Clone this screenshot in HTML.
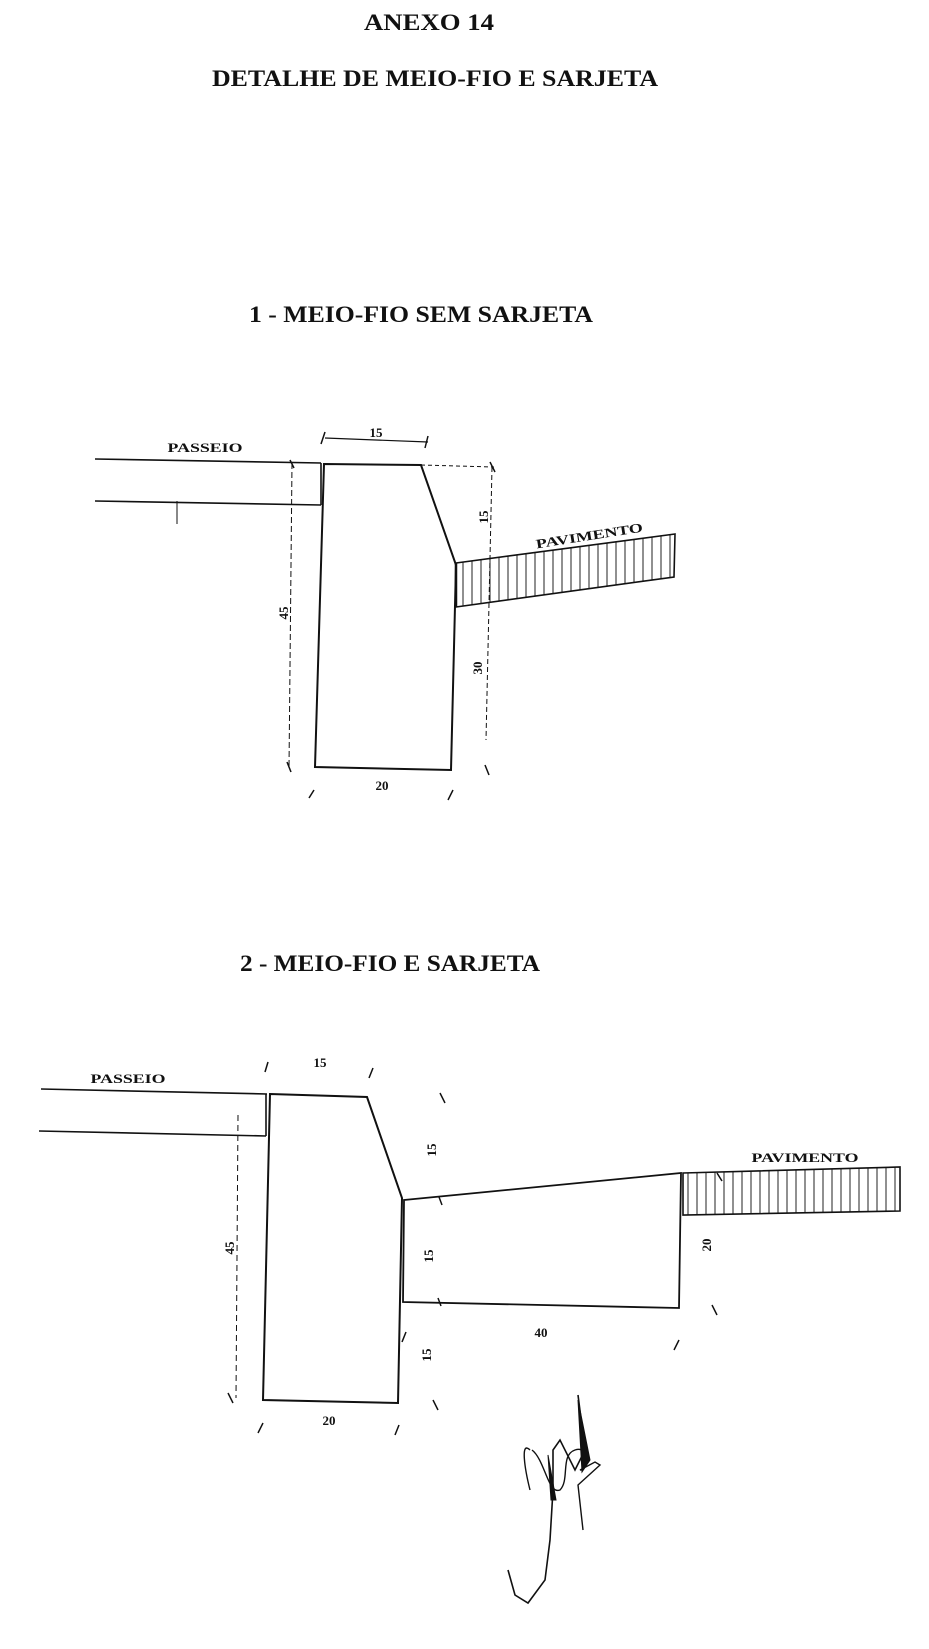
<!DOCTYPE html>
<html><head><meta charset="utf-8"><style>
html,body{margin:0;padding:0;background:#fff;}
svg{display:block;}
text{font-family:"Liberation Serif",serif;font-weight:bold;fill:#111;}
</style></head><body>
<svg width="929" height="1649" viewBox="0 0 929 1649" xmlns="http://www.w3.org/2000/svg">
<defs>
<pattern id="h" width="9" height="10" patternUnits="userSpaceOnUse">
<line x1="4" y1="0" x2="4" y2="10" stroke="#222" stroke-width="1"/>
</pattern>
</defs>
<text x="429" y="30" font-size="23" text-anchor="middle" textLength="130" lengthAdjust="spacingAndGlyphs">ANEXO 14</text>
<text x="435" y="86" font-size="23" text-anchor="middle" textLength="446" lengthAdjust="spacingAndGlyphs">DETALHE DE MEIO-FIO E SARJETA</text>
<text x="421" y="322" font-size="23" text-anchor="middle" textLength="344" lengthAdjust="spacingAndGlyphs">1 - MEIO-FIO SEM SARJETA</text>
<text x="390" y="971" font-size="23" text-anchor="middle" textLength="300" lengthAdjust="spacingAndGlyphs">2 - MEIO-FIO E SARJETA</text>

<g stroke="#111" fill="none" stroke-width="1.6">
<!-- diagram 1 -->
<line x1="95" y1="459" x2="321" y2="463"/>
<line x1="95" y1="501" x2="321" y2="505"/>
<line x1="321" y1="463" x2="321" y2="505"/>
<line x1="177" y1="501" x2="177" y2="524" stroke-width="1"/>
<polygon points="324,464 421,465 456,565 451,770 315,767" stroke-width="2"/>
<polygon points="456,563 675,534 674,577 456,607" fill="url(#h)"/>
<line x1="456" y1="563" x2="456" y2="607" stroke-width="2.5"/>
<line x1="325" y1="438" x2="428" y2="442" stroke-width="1.2"/>
<line x1="325" y1="432" x2="321" y2="444" stroke-width="1.5"/>
<line x1="428" y1="436" x2="425" y2="448" stroke-width="1.5"/>
<line x1="292" y1="463" x2="289" y2="768" stroke-width="1" stroke-dasharray="6,3"/>
<line x1="290" y1="460" x2="294" y2="468" stroke-width="1.5"/>
<line x1="287" y1="762" x2="291" y2="772" stroke-width="1.5"/>
<line x1="421" y1="465" x2="494" y2="467" stroke-width="1" stroke-dasharray="4,3"/>
<line x1="492" y1="467" x2="486" y2="740" stroke-width="1" stroke-dasharray="5,3"/>
<line x1="490" y1="462" x2="495" y2="472" stroke-width="1.5"/>
<line x1="485" y1="765" x2="489" y2="775" stroke-width="1.5"/>
<line x1="314" y1="790" x2="309" y2="798" stroke-width="1.5"/>
<line x1="453" y1="790" x2="448" y2="800" stroke-width="1.5"/>

<!-- diagram 2 -->
<line x1="41" y1="1089" x2="267" y2="1094"/>
<line x1="39" y1="1131" x2="266" y2="1136"/>
<line x1="266" y1="1094" x2="266" y2="1136"/>
<polygon points="270,1094 367,1097 402,1198 398,1403 263,1400" stroke-width="2"/>
<polygon points="404,1200 681,1173 679,1308 403,1302" stroke-width="1.8"/>
<polygon points="683,1173 900,1167 900,1211 683,1215" fill="url(#h)"/>
<line x1="238" y1="1115" x2="236" y2="1398" stroke-width="1" stroke-dasharray="6,4"/>
<line x1="268" y1="1062" x2="265" y2="1072" stroke-width="1.5"/>
<line x1="373" y1="1068" x2="369" y2="1078" stroke-width="1.5"/>
<line x1="228" y1="1393" x2="233" y2="1403" stroke-width="1.5"/>
<line x1="263" y1="1423" x2="258" y2="1433" stroke-width="1.5"/>
<line x1="399" y1="1425" x2="395" y2="1435" stroke-width="1.5"/>
<line x1="433" y1="1400" x2="438" y2="1410" stroke-width="1.5"/>
<line x1="440" y1="1093" x2="445" y2="1103" stroke-width="1.5"/>
<line x1="439" y1="1197" x2="442" y2="1205" stroke-width="1.5"/>
<line x1="438" y1="1298" x2="441" y2="1306" stroke-width="1.5"/>
<line x1="406" y1="1332" x2="402" y2="1342" stroke-width="1.5"/>
<line x1="712" y1="1305" x2="717" y2="1315" stroke-width="1.5"/>
<line x1="679" y1="1340" x2="674" y2="1350" stroke-width="1.5"/>
<line x1="717" y1="1173" x2="722" y2="1181" stroke-width="1.5"/>

<!-- signature -->
<path d="M578,1395 L585,1450 L575,1470 L560,1440 L553,1450 L553,1490 L550,1540 L545,1580 L528,1603 L515,1595 L508,1570" stroke-width="1.6"/>
<path d="M530,1450 C520,1440 525,1470 530,1490 M532,1450 C545,1460 548,1495 560,1490 C570,1480 560,1455 575,1450 C590,1445 590,1470 580,1470 L595,1462 L600,1465 L578,1485 L583,1530" stroke-width="1.4"/>
<path d="M578,1400 L590,1460 L582,1472 Z" fill="#111" stroke-width="1"/>
<path d="M548,1455 L556,1500 L551,1500 Z" fill="#111" stroke-width="1"/>
</g>

<text x="205" y="452" font-size="13" text-anchor="middle" textLength="75" lengthAdjust="spacingAndGlyphs">PASSEIO</text>
<text x="376" y="437" font-size="13" text-anchor="middle">15</text>
<text transform="translate(590,540) rotate(-9)" font-size="13" text-anchor="middle" textLength="108" lengthAdjust="spacingAndGlyphs">PAVIMENTO</text>
<text transform="translate(288,613) rotate(-90)" font-size="13" text-anchor="middle">45</text>
<text transform="translate(488,517) rotate(-90)" font-size="13" text-anchor="middle">15</text>
<text transform="translate(482,668) rotate(-90)" font-size="13" text-anchor="middle">30</text>
<text x="382" y="790" font-size="13" text-anchor="middle">20</text>

<text x="128" y="1083" font-size="13" text-anchor="middle" textLength="75" lengthAdjust="spacingAndGlyphs">PASSEIO</text>
<text x="320" y="1067" font-size="13" text-anchor="middle">15</text>
<text x="805" y="1162" font-size="13" text-anchor="middle" textLength="107" lengthAdjust="spacingAndGlyphs">PAVIMENTO</text>
<text transform="translate(234,1248) rotate(-90)" font-size="13" text-anchor="middle">45</text>
<text transform="translate(436,1150) rotate(-90)" font-size="13" text-anchor="middle">15</text>
<text transform="translate(433,1256) rotate(-90)" font-size="13" text-anchor="middle">15</text>
<text transform="translate(431,1355) rotate(-90)" font-size="13" text-anchor="middle">15</text>
<text transform="translate(711,1245) rotate(-90)" font-size="13" text-anchor="middle">20</text>
<text x="541" y="1337" font-size="13" text-anchor="middle">40</text>
<text x="329" y="1425" font-size="13" text-anchor="middle">20</text>
</svg>
</body></html>
